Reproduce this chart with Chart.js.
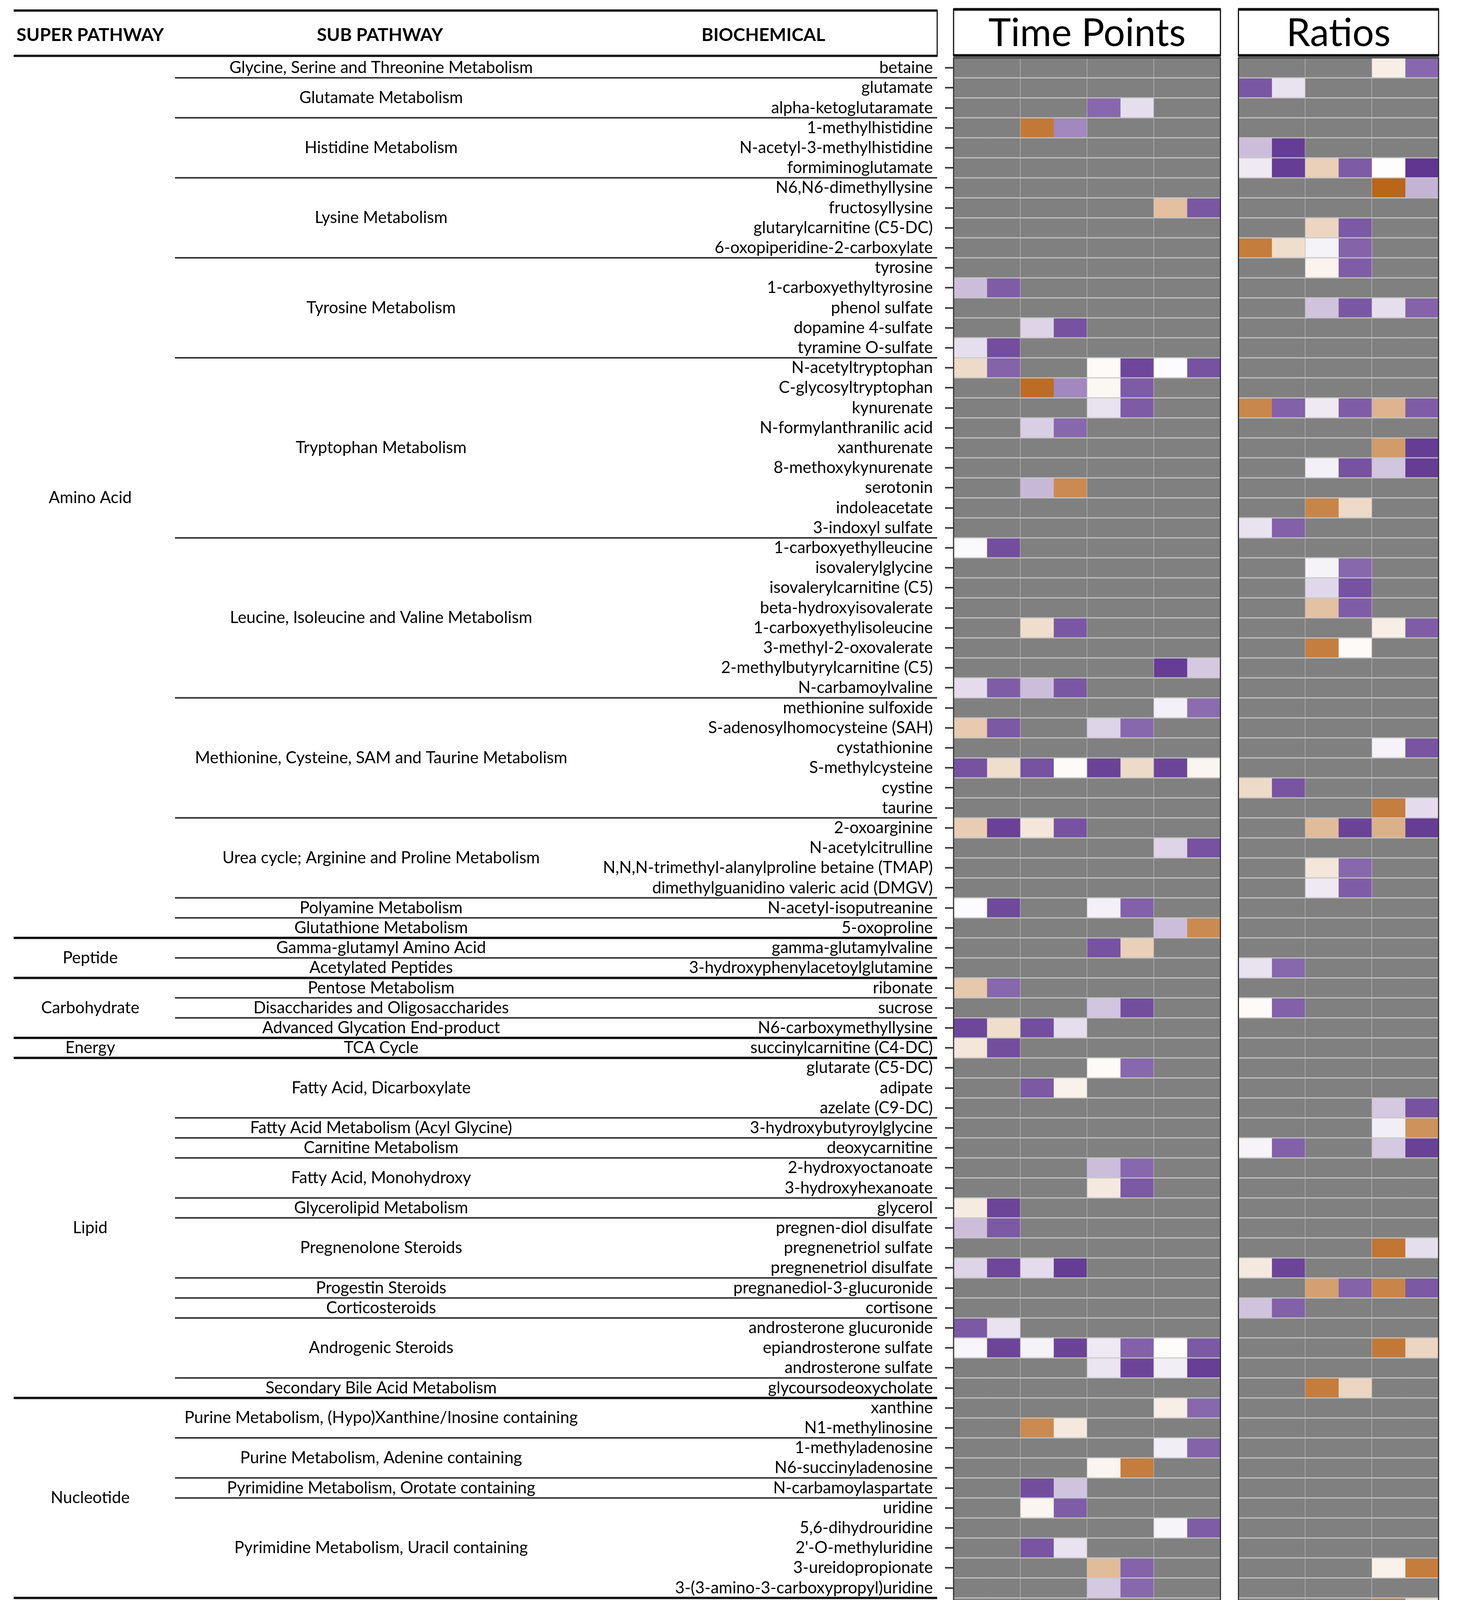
<!DOCTYPE html>
<html>
<head>
<meta charset="utf-8">
<script src="https://cdn.jsdelivr.net/npm/chart.js@4.4.1/dist/chart.umd.min.js"></script>
<style>
  html, body { margin: 0; padding: 0; background: #fff; }
  canvas { display: block; }
</style>
</head>
<body>
<canvas id="heat" width="3744" height="5387"></canvas>
<script>
const FONT = 'Lato, "Open Sans", sans-serif';

// ---- data ----
const biochemicals = [
  "betaine", "glutamate", "alpha-ketoglutaramate", "1-methylhistidine", "N-acetyl-3-methylhistidine",
  "formiminoglutamate", "N6,N6-dimethyllysine", "fructosyllysine", "glutarylcarnitine (C5-DC)",
  "6-oxopiperidine-2-carboxylate", "tyrosine", "1-carboxyethyltyrosine", "phenol sulfate",
  "dopamine 4-sulfate", "tyramine O-sulfate", "N-acetyltryptophan", "C-glycosyltryptophan", "kynurenate",
  "N-formylanthranilic acid", "xanthurenate", "8-methoxykynurenate", "serotonin", "indoleacetate",
  "3-indoxyl sulfate", "1-carboxyethylleucine", "isovalerylglycine", "isovalerylcarnitine (C5)",
  "beta-hydroxyisovalerate", "1-carboxyethylisoleucine", "3-methyl-2-oxovalerate",
  "2-methylbutyrylcarnitine (C5)", "N-carbamoylvaline", "methionine sulfoxide",
  "S-adenosylhomocysteine (SAH)", "cystathionine", "S-methylcysteine", "cystine", "taurine",
  "2-oxoarginine", "N-acetylcitrulline", "N,N,N-trimethyl-alanylproline betaine (TMAP)",
  "dimethylguanidino valeric acid (DMGV)", "N-acetyl-isoputreanine", "5-oxoproline",
  "gamma-glutamylvaline", "3-hydroxyphenylacetoylglutamine", "ribonate", "sucrose",
  "N6-carboxymethyllysine", "succinylcarnitine (C4-DC)", "glutarate (C5-DC)", "adipate",
  "azelate (C9-DC)", "3-hydroxybutyroylglycine", "deoxycarnitine", "2-hydroxyoctanoate",
  "3-hydroxyhexanoate", "glycerol", "pregnen-diol disulfate", "pregnenetriol sulfate",
  "pregnenetriol disulfate", "pregnanediol-3-glucuronide", "cortisone", "androsterone glucuronide",
  "epiandrosterone sulfate", "androsterone sulfate", "glycoursodeoxycholate", "xanthine",
  "N1-methylinosine", "1-methyladenosine", "N6-succinyladenosine", "N-carbamoylaspartate", "uridine",
  "5,6-dihydrouridine", "2'-O-methyluridine", "3-ureidopropionate",
  "3-(3-amino-3-carboxypropyl)uridine", "quinolinate", "N1-Methyl-2-pyridone-5-carboxamide",
  "2-O-methylascorbic acid", "threonate", "4-hydroxyhippurate", "4-methylcatechol sulfate",
  "3-methoxycatechol sulfate", "p-cresol sulfate", "theophylline", "1,3-dimethylurate",
  "5-acetylamino-6-formylamino-3-methyluracil"
];

// [name, number of biochemicals]
const subPathways = [
  ["Glycine, Serine and Threonine Metabolism", 1], ["Glutamate Metabolism", 2],
  ["Histidine Metabolism", 3], ["Lysine Metabolism", 4], ["Tyrosine Metabolism", 5],
  ["Tryptophan Metabolism", 9], ["Leucine, Isoleucine and Valine Metabolism", 8],
  ["Methionine, Cysteine, SAM and Taurine Metabolism", 6],
  ["Urea cycle; Arginine and Proline Metabolism", 4], ["Polyamine Metabolism", 1],
  ["Glutathione Metabolism", 1], ["Gamma-glutamyl Amino Acid", 1], ["Acetylated Peptides", 1],
  ["Pentose Metabolism", 1], ["Disaccharides and Oligosaccharides", 1],
  ["Advanced Glycation End-product", 1], ["TCA Cycle", 1], ["Fatty Acid, Dicarboxylate", 3],
  ["Fatty Acid Metabolism (Acyl Glycine)", 1], ["Carnitine Metabolism", 1],
  ["Fatty Acid, Monohydroxy", 2], ["Glycerolipid Metabolism", 1], ["Pregnenolone Steroids", 3],
  ["Progestin Steroids", 1], ["Corticosteroids", 1], ["Androgenic Steroids", 3],
  ["Secondary Bile Acid Metabolism", 1],
  ["Purine Metabolism, (Hypo)Xanthine/Inosine containing", 2],
  ["Purine Metabolism, Adenine containing", 2], ["Pyrimidine Metabolism, Orotate containing", 1],
  ["Pyrimidine Metabolism, Uracil containing", 5], ["Nicotinate and Nicotinamide Metabolism", 2],
  ["Ascorbate and Aldarate Metabolism", 2], ["Benzoate Metabolism", 4], ["Xanthine Metabolism", 3]
];

const superPathways = [
  ["Amino Acid", 44], ["Peptide", 2], ["Carbohydrate", 3], ["Energy", 1], ["Lipid", 17],
  ["Nucleotide", 10], ["Cofactors and\nVitamins", 4], ["Xenobiotics", 7]
];

// Pearson's R per column (missing = not significant, drawn grey)
const p1Control = {
  "1-carboxyethyltyrosine": 0.30, "tyramine O-sulfate": 0.15, "N-acetyltryptophan": -0.22,
  "1-carboxyethylleucine": 0.03, "N-carbamoylvaline": 0.16, "S-adenosylhomocysteine (SAH)": -0.32,
  "S-methylcysteine": 0.80, "2-oxoarginine": -0.30, "N-acetyl-isoputreanine": 0.02, "ribonate": -0.33,
  "N6-carboxymethyllysine": 0.85, "succinylcarnitine (C4-DC)": -0.15, "glycerol": -0.12,
  "pregnen-diol disulfate": 0.30, "pregnenetriol disulfate": 0.20, "androsterone glucuronide": 0.77,
  "epiandrosterone sulfate": 0.04, "5-acetylamino-6-formylamino-3-methyluracil": 0.30
};
const p1Mecfs = {
  "1-carboxyethyltyrosine": 0.75, "tyramine O-sulfate": 0.82, "N-acetyltryptophan": 0.72,
  "1-carboxyethylleucine": 0.82, "N-carbamoylvaline": 0.75, "S-adenosylhomocysteine (SAH)": 0.77,
  "S-methylcysteine": -0.20, "2-oxoarginine": 0.88, "N-acetyl-isoputreanine": 0.84, "ribonate": 0.70,
  "N6-carboxymethyllysine": -0.20, "succinylcarnitine (C4-DC)": 0.82, "glycerol": 0.86,
  "pregnen-diol disulfate": 0.77, "pregnenetriol disulfate": 0.85, "androsterone glucuronide": 0.13,
  "epiandrosterone sulfate": 0.86, "5-acetylamino-6-formylamino-3-methyluracil": 0.77
};
const p2Control = {
  "1-methylhistidine": -0.80, "dopamine 4-sulfate": 0.20, "C-glycosyltryptophan": -0.88,
  "N-formylanthranilic acid": 0.22, "serotonin": 0.33, "1-carboxyethylisoleucine": -0.20,
  "N-carbamoylvaline": 0.30, "S-methylcysteine": 0.80, "2-oxoarginine": -0.15,
  "N6-carboxymethyllysine": 0.82, "adipate": 0.77, "pregnenetriol disulfate": 0.16,
  "epiandrosterone sulfate": 0.06, "N1-methylinosine": -0.70, "N-carbamoylaspartate": 0.82,
  "uridine": -0.06, "2'-O-methyluridine": 0.79, "N1-Methyl-2-pyridone-5-carboxamide": 0.13,
  "5-acetylamino-6-formylamino-3-methyluracil": -0.28
};
const p2Mecfs = {
  "1-methylhistidine": 0.55, "dopamine 4-sulfate": 0.80, "C-glycosyltryptophan": 0.55,
  "N-formylanthranilic acid": 0.70, "serotonin": -0.70, "1-carboxyethylisoleucine": 0.78,
  "N-carbamoylvaline": 0.78, "S-methylcysteine": -0.03, "2-oxoarginine": 0.80,
  "N6-carboxymethyllysine": 0.15, "adipate": -0.08, "pregnenetriol disulfate": 0.90,
  "epiandrosterone sulfate": 0.87, "N1-methylinosine": -0.13, "N-carbamoylaspartate": 0.28,
  "uridine": 0.75, "2'-O-methyluridine": 0.13, "N1-Methyl-2-pyridone-5-carboxamide": 0.79,
  "5-acetylamino-6-formylamino-3-methyluracil": 0.89
};
const p3Control = {
  "alpha-ketoglutaramate": 0.70, "N-acetyltryptophan": -0.03, "C-glycosyltryptophan": -0.05,
  "kynurenate": 0.13, "S-adenosylhomocysteine (SAH)": 0.20, "S-methylcysteine": 0.87,
  "N-acetyl-isoputreanine": 0.07, "gamma-glutamylvaline": 0.80, "sucrose": 0.27,
  "glutarate (C5-DC)": -0.03, "2-hydroxyoctanoate": 0.30, "3-hydroxyhexanoate": -0.13,
  "epiandrosterone sulfate": 0.10, "androsterone sulfate": 0.12, "N6-succinyladenosine": -0.06,
  "3-ureidopropionate": -0.40, "3-(3-amino-3-carboxypropyl)uridine": 0.25,
  "2-O-methylascorbic acid": -0.04, "4-methylcatechol sulfate": 0.20, "3-methoxycatechol sulfate": 0.77
};
const p3Mecfs = {
  "alpha-ketoglutaramate": 0.15, "N-acetyltryptophan": 0.85, "C-glycosyltryptophan": 0.76,
  "kynurenate": 0.76, "S-adenosylhomocysteine (SAH)": 0.70, "S-methylcysteine": -0.22,
  "N-acetyl-isoputreanine": 0.73, "gamma-glutamylvaline": -0.28, "sucrose": 0.82,
  "glutarate (C5-DC)": 0.70, "2-hydroxyoctanoate": 0.70, "3-hydroxyhexanoate": 0.77,
  "epiandrosterone sulfate": 0.73, "androsterone sulfate": 0.86, "N6-succinyladenosine": -0.78,
  "3-ureidopropionate": 0.72, "3-(3-amino-3-carboxypropyl)uridine": 0.70,
  "2-O-methylascorbic acid": 0.96, "4-methylcatechol sulfate": 0.96, "3-methoxycatechol sulfate": -0.17
};
const p4Control = {
  "fructosyllysine": -0.38, "N-acetyltryptophan": 0.02, "2-methylbutyrylcarnitine (C5)": 0.90,
  "methionine sulfoxide": 0.07, "S-methylcysteine": 0.86, "N-acetylcitrulline": 0.20,
  "5-oxoproline": 0.30, "epiandrosterone sulfate": -0.02, "androsterone sulfate": 0.08,
  "xanthine": -0.10, "1-methyladenosine": 0.08, "5,6-dihydrouridine": 0.05,
  "2-O-methylascorbic acid": -0.06, "4-methylcatechol sulfate": 0.10
};
const p4Mecfs = {
  "fructosyllysine": 0.78, "N-acetyltryptophan": 0.80, "2-methylbutyrylcarnitine (C5)": 0.25,
  "methionine sulfoxide": 0.68, "S-methylcysteine": -0.06, "N-acetylcitrulline": 0.80,
  "5-oxoproline": -0.70, "epiandrosterone sulfate": 0.77, "androsterone sulfate": 0.89,
  "xanthine": 0.70, "1-methyladenosine": 0.72, "5,6-dihydrouridine": 0.75,
  "2-O-methylascorbic acid": 0.85, "4-methylcatechol sulfate": 0.93
};
const p4p1Control = {
  "glutamate": 0.78, "N-acetyl-3-methylhistidine": 0.30, "formiminoglutamate": 0.10,
  "6-oxopiperidine-2-carboxylate": -0.78, "kynurenate": -0.72, "3-indoxyl sulfate": 0.13,
  "cystine": -0.22, "3-hydroxyphenylacetoylglutamine": 0.13, "sucrose": -0.03, "deoxycarnitine": 0.05,
  "pregnenetriol disulfate": -0.13, "cortisone": 0.28, "N1-Methyl-2-pyridone-5-carboxamide": 0.20,
  "p-cresol sulfate": 0.01
};
const p4p1Mecfs = {
  "glutamate": 0.13, "N-acetyl-3-methylhistidine": 0.90, "formiminoglutamate": 0.90,
  "6-oxopiperidine-2-carboxylate": -0.20, "kynurenate": 0.73, "3-indoxyl sulfate": 0.73,
  "cystine": 0.79, "3-hydroxyphenylacetoylglutamine": 0.70, "sucrose": 0.73, "deoxycarnitine": 0.73,
  "pregnenetriol disulfate": 0.86, "cortisone": 0.73, "N1-Methyl-2-pyridone-5-carboxamide": 0.90,
  "p-cresol sulfate": 0.77
};
const p3p2Control = {
  "formiminoglutamate": -0.28, "glutarylcarnitine (C5-DC)": -0.25, "6-oxopiperidine-2-carboxylate": 0.06,
  "tyrosine": -0.07, "phenol sulfate": 0.28, "kynurenate": 0.10, "8-methoxykynurenate": 0.07,
  "indoleacetate": -0.73, "isovalerylglycine": 0.06, "isovalerylcarnitine (C5)": 0.18,
  "beta-hydroxyisovalerate": -0.37, "3-methyl-2-oxovalerate": -0.77, "2-oxoarginine": -0.40,
  "N,N,N-trimethyl-alanylproline betaine (TMAP)": -0.15, "dimethylguanidino valeric acid (DMGV)": 0.10,
  "pregnanediol-3-glucuronide": -0.57, "glycoursodeoxycholate": -0.78, "4-hydroxyhippurate": 0.18,
  "p-cresol sulfate": 0.03, "1,3-dimethylurate": 0.0
};
const p3p2Mecfs = {
  "formiminoglutamate": 0.76, "glutarylcarnitine (C5-DC)": 0.77, "6-oxopiperidine-2-carboxylate": 0.72,
  "tyrosine": 0.75, "phenol sulfate": 0.78, "kynurenate": 0.75, "8-methoxykynurenate": 0.80,
  "indoleacetate": -0.22, "isovalerylglycine": 0.70, "isovalerylcarnitine (C5)": 0.80,
  "beta-hydroxyisovalerate": 0.75, "3-methyl-2-oxovalerate": -0.03, "2-oxoarginine": 0.87,
  "N,N,N-trimethyl-alanylproline betaine (TMAP)": 0.70, "dimethylguanidino valeric acid (DMGV)": 0.75,
  "pregnanediol-3-glucuronide": 0.72, "glycoursodeoxycholate": -0.25, "4-hydroxyhippurate": 0.77,
  "p-cresol sulfate": 0.75, "1,3-dimethylurate": 0.70
};
const p3p1Control = {
  "betaine": -0.10, "formiminoglutamate": 0.01, "N6,N6-dimethyllysine": -0.92, "phenol sulfate": 0.15,
  "kynurenate": -0.45, "xanthurenate": -0.60, "8-methoxykynurenate": 0.27,
  "1-carboxyethylisoleucine": -0.10, "cystathionine": 0.06, "taurine": -0.77, "2-oxoarginine": -0.47,
  "azelate (C9-DC)": 0.25, "3-hydroxybutyroylglycine": 0.08, "deoxycarnitine": 0.25,
  "pregnenetriol sulfate": -0.82, "pregnanediol-3-glucuronide": -0.73, "epiandrosterone sulfate": -0.80,
  "3-ureidopropionate": -0.08, "quinolinate": -0.77, "N1-Methyl-2-pyridone-5-carboxamide": 0.04,
  "threonate": 0.02, "p-cresol sulfate": -0.05, "theophylline": 0.25, "1,3-dimethylurate": 0.20
};
const p3p1Mecfs = {
  "betaine": 0.70, "formiminoglutamate": 0.93, "N6,N6-dimethyllysine": 0.35, "phenol sulfate": 0.72,
  "kynurenate": 0.75, "xanthurenate": 0.90, "8-methoxykynurenate": 0.90,
  "1-carboxyethylisoleucine": 0.75, "cystathionine": 0.79, "taurine": 0.16, "2-oxoarginine": 0.90,
  "azelate (C9-DC)": 0.80, "3-hydroxybutyroylglycine": -0.65, "deoxycarnitine": 0.88,
  "pregnenetriol sulfate": 0.15, "pregnanediol-3-glucuronide": 0.77, "epiandrosterone sulfate": -0.25,
  "3-ureidopropionate": -0.78, "quinolinate": -0.20, "N1-Methyl-2-pyridone-5-carboxamide": 0.90,
  "threonate": 0.75, "p-cresol sulfate": 0.75, "theophylline": 0.85, "1,3-dimethylurate": 0.77
};

const columnValues = [p1Control, p1Mecfs, p2Control, p2Mecfs, p3Control, p3Mecfs, p4Control, p4Mecfs,
                      p4p1Control, p4p1Mecfs, p3p2Control, p3p2Mecfs, p3p1Control, p3p1Mecfs];

const timeLabels = ["P1", "P2", "P3", "P4"];
const urineLabels = ["U1", "U3"];
const ratioLabels = ["P4/P1", "P3/P2", "P3/P1"];
const groupLabels = ["Control", "ME/CFS"];
const colorTicks = [-1, -0.5, 0, 0.5, 1];
const studyTable = [
  ["Study Time Point", "Urine", "Plasma"],
  ["Baseline", "U1", "P1"],
  ["15 min post-CPET1", "", "P2"],
  ["24 h post-CPET1", "U3", "P3"],
  ["15 min post-CPET2", "", "P4"]
];

// ---- styling ----
const NA_GREY = '#808080';
const GROUP_COLORS = ['#F8766D', '#19BFC5'];
const NEG = [179, 88, 6], POS = [84, 39, 136];
const RATIO_GAP = 0.54;
const colStart = k => (k < 8 ? k : k + RATIO_GAP);

function cellColor(v) {
  if (v === undefined || v === null) return NA_GREY;
  const t = Math.min(1, Math.abs(v));
  const end = v < 0 ? NEG : POS;
  const c = end.map(e => Math.round(255 + (e - 255) * t));
  return 'rgb(' + c.join(',') + ')';
}

function line(ctx, x1, y1, x2, y2) {
  ctx.beginPath(); ctx.moveTo(x1, y1); ctx.lineTo(x2, y2); ctx.stroke();
}

const datasets = columnValues.map((vals, k) => ({
  data: biochemicals.map(() => [colStart(k), colStart(k) + 1]),
  backgroundColor: biochemicals.map(n => cellColor(vals[n])),
  borderWidth: 0,
  barPercentage: 1,
  categoryPercentage: 1,
  grouped: false
}));

const figurePlugin = {
  id: 'figure',
  afterDatasetsDraw(chart) {
    const ctx = chart.ctx, x = chart.scales.x, y = chart.scales.y;
    const half = (y.getPixelForValue(1) - y.getPixelForValue(0)) / 2;
    const top = y.getPixelForValue(0) - half;
    const bottom = y.getPixelForValue(biochemicals.length - 1) + half;
    ctx.save();
    [[0, 8], [8 + RATIO_GAP, 14 + RATIO_GAP]].forEach(([a, b]) => {
      const xa = x.getPixelForValue(a), xb = x.getPixelForValue(b);
      ctx.strokeStyle = 'rgba(200,200,200,0.9)';
      ctx.lineWidth = 3;
      for (let i = 1; i < biochemicals.length; i++) {
        const yy = y.getPixelForValue(i) - half;
        line(ctx, xa, yy, xb, yy);
      }
      ctx.strokeStyle = 'rgba(185,185,185,0.9)';
      ctx.lineWidth = 1.5;
      for (let c = a + 2; c < b - 0.01; c += 2) {
        const xx = x.getPixelForValue(c);
        line(ctx, xx, top, xx, bottom);
      }
      ctx.strokeStyle = '#333';
      ctx.lineWidth = 3;
      ctx.strokeRect(xa, top, xb - xa, bottom - top);
    });
    ctx.restore();
  },
  afterDraw(chart) {
    const ctx = chart.ctx, x = chart.scales.x, y = chart.scales.y;
    const half = (y.getPixelForValue(1) - y.getPixelForValue(0)) / 2;
    const LEFT = 35, SUB_LEFT = 448, LABEL_RIGHT = 2400;
    ctx.save();
    ctx.fillStyle = '#000';
    ctx.strokeStyle = '#1a1a1a';

    // left header
    ctx.lineWidth = 6;
    line(ctx, LEFT, 27, LABEL_RIGHT, 27);
    line(ctx, LEFT, 143, LABEL_RIGHT, 143);
    ctx.lineWidth = 3;
    line(ctx, LABEL_RIGHT, 25, LABEL_RIGHT, 145);
    ctx.font = 'bold 46px ' + FONT;
    ctx.textAlign = 'center';
    ctx.textBaseline = 'middle';
    ctx.fillText('SUPER PATHWAY', 231, 90);
    ctx.fillText('SUB PATHWAY', 973, 90);
    ctx.fillText('BIOCHEMICAL', 1955, 90);

    // sub pathways
    ctx.font = '42px ' + FONT;
    let row = 0;
    ctx.lineWidth = 4;
    ctx.strokeStyle = '#333';
    subPathways.forEach(([name, n]) => {
      const yc = (y.getPixelForValue(row) + y.getPixelForValue(row + n - 1)) / 2;
      ctx.fillText(name, 976, yc);
      const yb = y.getPixelForValue(row + n - 1) + half;
      line(ctx, SUB_LEFT, yb, LABEL_RIGHT, yb);
      row += n;
    });

    // super pathways
    row = 0;
    ctx.lineWidth = 6;
    ctx.strokeStyle = '#111';
    superPathways.forEach(([name, n]) => {
      const yc = (y.getPixelForValue(row) + y.getPixelForValue(row + n - 1)) / 2;
      const parts = name.split('\n');
      parts.forEach((p, i) => ctx.fillText(p, 231, yc + (i - (parts.length - 1) / 2) * 50));
      const yb = y.getPixelForValue(row + n - 1) + half;
      line(ctx, LEFT, yb, LABEL_RIGHT, yb);
      row += n;
    });

    // panel headers
    ctx.font = '98px ' + FONT;
    [[0, 8, 'Time Points'], [8 + RATIO_GAP, 14 + RATIO_GAP, 'Ratios']].forEach(([a, b, t]) => {
      const xa = x.getPixelForValue(a), xb = x.getPixelForValue(b);
      ctx.lineWidth = 3;
      ctx.strokeRect(xa, 23, xb - xa, 120);
      ctx.lineWidth = 7;
      line(ctx, xa, 24, xb, 24);
      line(ctx, xa, 142, xb, 142);
      ctx.fillText(t, (xa + xb) / 2, 86);
    });

    // group colour strip under each column
    const stripTop = 4659, stripH = 57;
    columnValues.forEach((v, k) => {
      const x0 = x.getPixelForValue(colStart(k)), x1 = x.getPixelForValue(colStart(k) + 1);
      ctx.fillStyle = GROUP_COLORS[k % 2];
      ctx.fillRect(x0 + 1.5, stripTop, x1 - x0 - 3, stripH);
    });
    ctx.fillStyle = '#000';
    ctx.strokeStyle = '#000';
    ctx.lineWidth = 5;
    [2, 4, 6, 10 + RATIO_GAP, 12 + RATIO_GAP].forEach(c => {
      const xx = x.getPixelForValue(c);
      line(ctx, xx, 4657, xx, 4788);
    });

    // time point labels
    ctx.font = '76px ' + FONT;
    ctx.textBaseline = 'alphabetic';
    timeLabels.forEach((t, i) => ctx.fillText(t, x.getPixelForValue(2 * i + 1), 4806));
    ctx.lineWidth = 7;
    ctx.font = '78px ' + FONT;
    urineLabels.forEach((u, i) => {
      const xa = x.getPixelForValue(4 * i) + 26, xb = x.getPixelForValue(4 * i + 4) - 46;
      line(ctx, xa, 4833, xb, 4833);
      ctx.fillText(u, (xa + xb) / 2, 4921);
    });

    // ratio labels (rotated)
    ctx.font = '78px ' + FONT;
    ratioLabels.forEach((r, i) => {
      const xc = x.getPixelForValue(8 + RATIO_GAP + 2 * i + 1);
      ctx.save();
      ctx.translate(xc + 62, 4786);
      ctx.rotate(-47 * Math.PI / 180);
      ctx.textAlign = 'right';
      ctx.textBaseline = 'middle';
      ctx.fillText(r, 0, 0);
      ctx.restore();
    });
    line(ctx, 3124, 4986, 3717, 4986);
    ctx.fillText('U3/U1', 3420, 5071);

    // group legend
    groupLabels.forEach((g, i) => {
      const yy = 5012 + i * 138;
      ctx.fillStyle = GROUP_COLORS[i];
      ctx.fillRect(1396, yy, 107, 109);
      ctx.fillStyle = '#000';
      ctx.font = '92px ' + FONT;
      ctx.textAlign = 'left';
      ctx.textBaseline = 'middle';
      ctx.fillText(g, 1536, yy + 56);
    });

    // colour bar
    const cbL = 2758, cbR = 3540, cbT = 5153, cbB = 5241;
    const grad = ctx.createLinearGradient(cbL, 0, cbR, 0);
    grad.addColorStop(0, cellColor(-1));
    grad.addColorStop(0.5, '#ffffff');
    grad.addColorStop(1, cellColor(1));
    ctx.fillStyle = grad;
    ctx.fillRect(cbL, cbT, cbR - cbL, cbB - cbT);
    const cbX = v => cbL + (v + 1) / 2 * (cbR - cbL);
    ctx.strokeStyle = '#fff';
    ctx.lineWidth = 5;
    [-0.5, 0.5].forEach(v => {
      line(ctx, cbX(v), cbT, cbX(v), cbT + 14);
      line(ctx, cbX(v), cbB - 14, cbX(v), cbB);
    });
    ctx.fillStyle = '#000';
    ctx.font = '100px ' + FONT;
    ctx.textAlign = 'center';
    ctx.textBaseline = 'alphabetic';
    colorTicks.forEach(v => ctx.fillText(String(v), cbX(v), 5359));
    ctx.textAlign = 'right';
    ctx.fillText('Pearson\u2019s R', 2612, 5359);

    // study time point table
    const tRows = [4822, 4931, 5037, 5144, 5250, 5360];
    const tCols = [31, 692, 919, 1205];
    ctx.strokeStyle = '#111';
    ctx.lineWidth = 7;
    tRows.forEach(yy => line(ctx, tCols[0] - 2, yy, tCols[3] + 2, yy));
    ctx.lineWidth = 4;
    tCols.forEach(xx => line(ctx, xx, tRows[0], xx, tRows[5]));
    ctx.textBaseline = 'middle';
    studyTable.forEach((r, i) => {
      const yc = (tRows[i] + tRows[i + 1]) / 2 + 2;
      ctx.font = (i === 0 ? 'bold ' : '') + '70px ' + FONT;
      ctx.textAlign = 'left';
      ctx.fillText(r[0], 45, yc);
      ctx.textAlign = 'center';
      ctx.fillText(r[1], (tCols[1] + tCols[2]) / 2, yc);
      ctx.fillText(r[2], (tCols[2] + tCols[3]) / 2, yc);
    });
    ctx.restore();
  }
};

new Chart(document.getElementById('heat'), {
  type: 'bar',
  data: { labels: biochemicals, datasets: datasets },
  options: {
    indexAxis: 'y',
    responsive: false,
    devicePixelRatio: 1,
    animation: false,
    events: [],
    layout: { padding: { left: 0, right: 60, top: 148, bottom: 733 } },
    plugins: { legend: { display: false }, tooltip: { enabled: false } },
    scales: {
      x: { type: 'linear', min: 0, max: 14 + RATIO_GAP, display: false },
      y: {
        type: 'category',
        offset: true,
        border: { display: false },
        grid: { offset: false, drawOnChartArea: false, drawTicks: true, tickLength: 22, tickWidth: 4, tickColor: '#333' },
        ticks: { autoSkip: false, padding: 31, color: '#000', font: { family: FONT, size: 42 } },
        afterFit(scale) { scale.width = 2442; }
      }
    }
  },
  plugins: [figurePlugin]
});
</script>
</body>
</html>
